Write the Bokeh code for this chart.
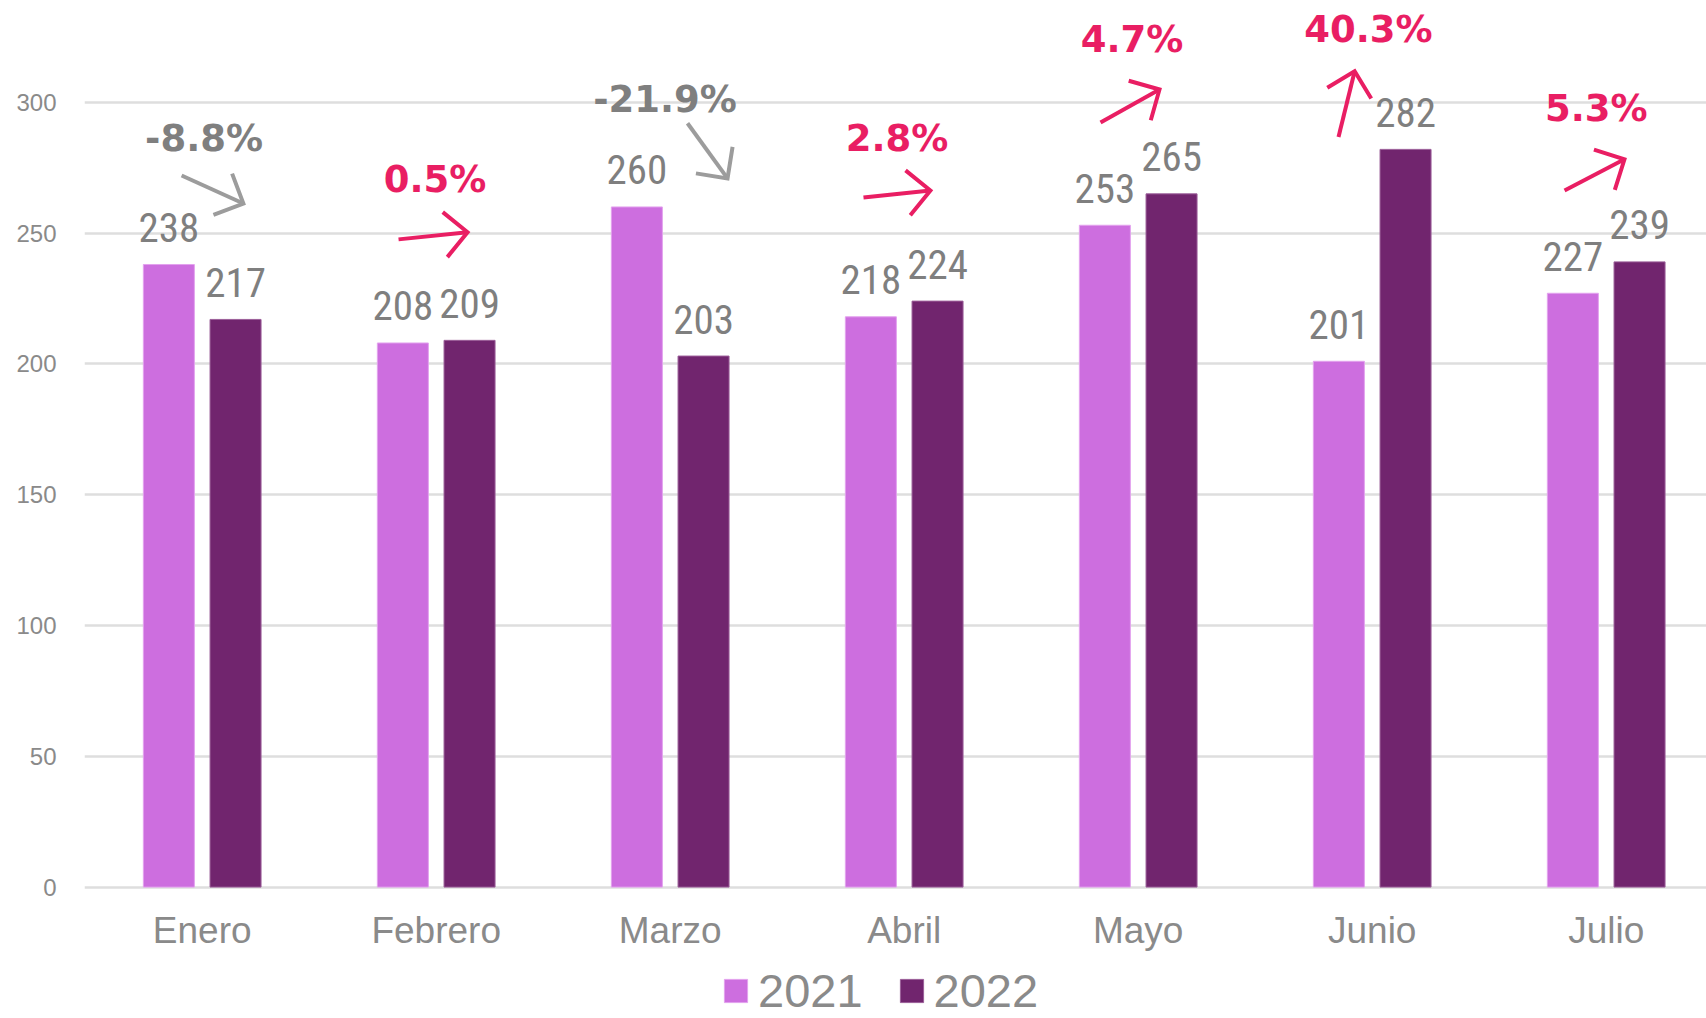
import math
from bokeh.plotting import figure
from bokeh.models import (Range1d, FixedTicker, Legend, LegendItem, ColumnDataSource)
from bokeh.core.properties import value
from bokeh.transform import dodge
from bokeh.embed import file_html
from bokeh.resources import INLINE

# ---- data ----
months = ["Enero", "Febrero", "Marzo", "Abril", "Mayo", "Junio", "Julio"]
y2021 = [238, 208, 260, 218, 253, 201, 227]
y2022 = [217, 209, 203, 224, 265, 282, 239]
y_ticks = [0, 50, 100, 150, 200, 250, 300]

# annotation placement (category offset / value units)
pct_label_dx = [0.008, -0.005, -0.022, -0.031, -0.026, -0.016, -0.042]
pct_label_y = [280.9, 265.2, 295.8, 280.9, 318.7, 322.5, 292.3]
arrow_dx0 = [-0.088, -0.161, 0.074, -0.174, -0.161, -0.144, -0.178]
arrow_y0 = [272.0, 247.6, 292.0, 263.6, 292.3, 286.7, 266.3]
arrow_dx1 = [0.176, 0.134, 0.245, 0.112, 0.091, -0.075, 0.078]
arrow_y1 = [261.3, 250.3, 270.9, 266.3, 304.9, 311.9, 278.2]

C2021 = "#CD6EDF"
C2022 = "#71256E"
PINK = "#E91E63"
GRAY_TXT = "#7F7F7F"
GRAY_ARROW = "#9C9C9C"
AXIS_TXT = "#8A8A8A"

FRAME_W, FRAME_H = 1622, 1018
PX_X, PX_Y = 234.0, 2.616
X0 = -0.503
X1 = X0 + FRAME_W / PX_X
Y0 = -(FRAME_H - 886.6) / PX_Y
Y1 = Y0 + FRAME_H / PX_Y

idx = list(range(len(months)))
src = ColumnDataSource(dict(x=idx, a=y2021, b=y2022,
                            la=[str(v) for v in y2021], lb=[str(v) for v in y2022]))

p = figure(frame_width=FRAME_W, frame_height=FRAME_H,
           x_range=Range1d(X0, X1), y_range=Range1d(Y0, Y1),
           output_backend="svg", toolbar_location=None,
           min_border_left=84, min_border_right=0, min_border_top=0,
           min_border_bottom=0)
p.outline_line_color = None
p.background_fill_color = "white"
p.border_fill_color = "white"

BW = 0.218
OFF = 0.1425
r1 = p.vbar(x=dodge("x", -OFF), top="a", width=BW, source=src,
            fill_color=C2021, line_color="#E3A2EE", line_width=1)
r2 = p.vbar(x=dodge("x", OFF), top="b", width=BW, source=src,
            fill_color=C2022, line_color="#9B5E99", line_width=1)

label_font = value("Liberation Sans Narrow, Arial Narrow, Roboto Condensed, Liberation Sans")
p.text(x=dodge("x", -OFF), y="a", text="la", source=src, text_align="center",
       text_baseline="alphabetic", y_offset=-37, text_font=label_font,
       text_font_size="41px", text_color=GRAY_TXT)
p.text(x=dodge("x", OFF), y="b", text="lb", source=src, text_align="center",
       text_baseline="alphabetic", y_offset=-37, text_font=label_font,
       text_font_size="41px", text_color=GRAY_TXT)

# percent change labels and arrows
pct = [(b / a - 1) * 100 for a, b in zip(y2021, y2022)]
pct_txt = [f"{v:.1f}%" for v in pct]
pct_col = [PINK if v >= 0 else GRAY_TXT for v in pct]
arr_col = [PINK if v >= 0 else GRAY_ARROW for v in pct]
psrc = ColumnDataSource(dict(x=[i + d for i, d in zip(idx, pct_label_dx)],
                             y=pct_label_y, t=pct_txt, c=pct_col))
p.text(x="x", y="y", text="t", source=psrc, text_color="c", text_align="center",
       text_baseline="alphabetic", y_offset=-14, text_font=value("DejaVu Sans"),
       text_font_style="bold", text_font_size="37px")

sx = FRAME_W / (X1 - X0)
sy = FRAME_H / (Y1 - Y0)
shaft_xs, shaft_ys, head_xs, head_ys = [], [], [], []
for i in idx:
    xa, ya = i + arrow_dx0[i], arrow_y0[i]
    xb, yb = i + arrow_dx1[i], arrow_y1[i]
    shaft_xs.append([xa, xb]); shaft_ys.append([ya, yb])
    dx, dy = (xb - xa) * sx, (yb - ya) * sy
    n = math.hypot(dx, dy)
    ux, uy = -dx / n, -dy / n
    L = 32.0
    pts = []
    for ang in (math.pi / 4, -math.pi / 4):
        rx = ux * math.cos(ang) - uy * math.sin(ang)
        ry = ux * math.sin(ang) + uy * math.cos(ang)
        pts.append((xb + rx * L / sx, yb + ry * L / sy))
    head_xs.append([pts[0][0], xb, pts[1][0]])
    head_ys.append([pts[0][1], yb, pts[1][1]])

asrc = ColumnDataSource(dict(xs=shaft_xs, ys=shaft_ys, hx=head_xs, hy=head_ys, c=arr_col))
p.multi_line(xs="xs", ys="ys", source=asrc, line_color="c", line_width=4, line_cap="butt")
p.multi_line(xs="hx", ys="hy", source=asrc, line_color="c", line_width=4,
             line_cap="butt", line_join="miter")

# category labels (drawn under the zero line, inside the frame)
csrc = ColumnDataSource(dict(x=idx, y=[0] * len(idx), t=months))
p.text(x="x", y="y", text="t", source=csrc, text_align="center",
       text_baseline="alphabetic", y_offset=43, text_font=value("Liberation Sans"),
       text_font_size="37px", text_color=AXIS_TXT)

# axes & grid
p.xaxis.visible = False
p.yaxis.ticker = FixedTicker(ticks=y_ticks)
p.yaxis.axis_line_color = None
p.yaxis.major_tick_line_color = None
p.yaxis.minor_tick_line_color = None
p.yaxis.major_label_text_font = "Liberation Sans"
p.yaxis.major_label_text_font_size = "24px"
p.yaxis.major_label_text_color = AXIS_TXT
p.yaxis.major_label_standoff = 22

p.xgrid.grid_line_color = None
p.ygrid.ticker = FixedTicker(ticks=y_ticks)
p.ygrid.grid_line_color = "#DEDEDE"
p.ygrid.grid_line_width = 2.5

legend = Legend(items=[LegendItem(label="2021", renderers=[r1]),
                       LegendItem(label="2022", renderers=[r2])],
                orientation="horizontal", location=(637, 0),
                label_text_font="Liberation Sans", label_text_font_size="47px",
                label_text_color=AXIS_TXT, glyph_width=29, glyph_height=29,
                spacing=34, label_standoff=8, border_line_color=None,
                background_fill_alpha=0, padding=0, margin=0)
p.add_layout(legend, "center")

open("out.html", "w").write(file_html(p, INLINE))
